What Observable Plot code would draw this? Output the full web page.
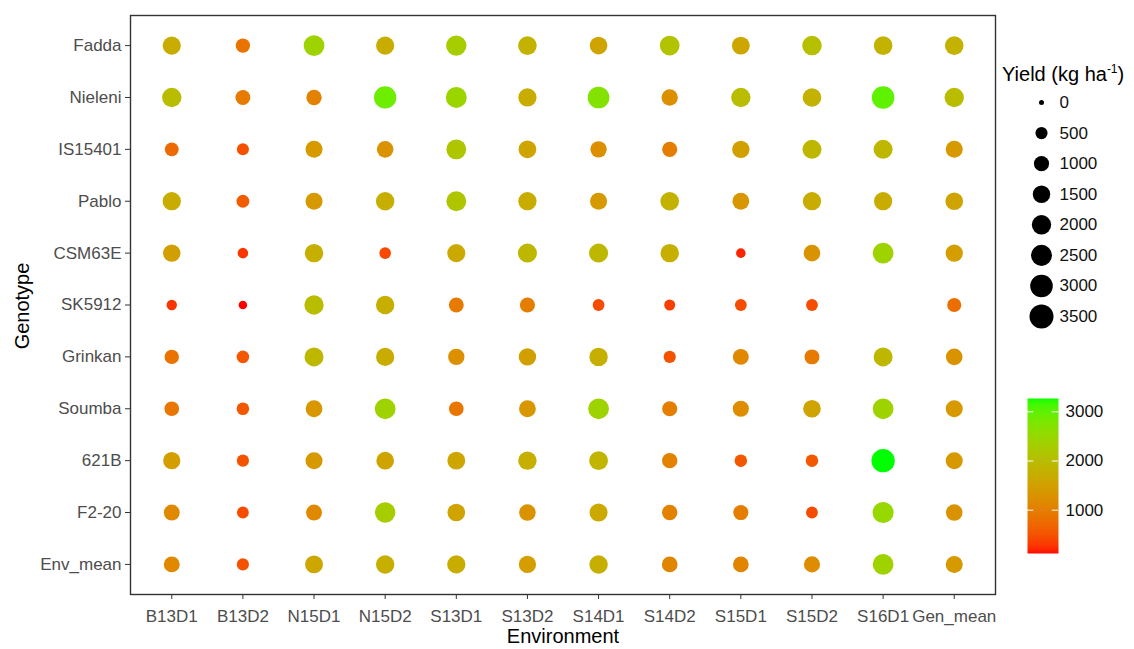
<!DOCTYPE html>
<html>
<head>
<meta charset="utf-8">
<script src="https://cdn.jsdelivr.net/npm/d3@7"></script>
<script src="https://cdn.jsdelivr.net/npm/@observablehq/plot@0.6"></script>
<style>
  body { margin: 0; background: #fff; font-family: "Liberation Sans", Arial, sans-serif; }
  #chart { position: relative; width: 1134px; height: 649px; overflow: hidden; }
  #chart > * { position: absolute; }
  #legend-title { left: 1002px; top: 62px; font-size: 20px; line-height: 24px; color: #000; white-space: nowrap; }
  #legend-title sup { font-size: 12px; line-height: 0; }
</style>
</head>
<body>
<div id="chart">
  <div id="legend-title">Yield (kg ha<sup>-1</sup>)</div>
</div>
<script>
// Environments (columns) and genotypes (rows, top to bottom)
const environments = ["B13D1", "B13D2", "N15D1", "N15D2", "S13D1", "S13D2", "S14D1", "S14D2", "S15D1", "S15D2", "S16D1", "Gen_mean"];
const genotypes = ["Fadda", "Nieleni", "IS15401", "Pablo", "CSM63E", "SK5912", "Grinkan", "Soumba", "621B", "F2-20", "Env_mean"];

// Grain yield (kg/ha) per genotype, one value per environment (null = not sown)
const fadda    = [1700,  850, 2400, 1700, 2300, 1800, 1550, 2100, 1600, 2050, 1800, 1800];
const nieleni  = [2000,  950, 1050, 2900, 2450, 1700, 2700, 1250, 2000, 1800, 3000, 2000];
const is15401  = [ 750,  480, 1400, 1300, 2150, 1550, 1250, 1000, 1500, 1900, 1900, 1400];
const pablo    = [1700,  600, 1400, 1750, 2150, 1700, 1400, 1800, 1350, 1700, 1700, 1550];
const csm63e   = [1500,  300, 1750,  420, 1650, 1900, 1900, 1750,  200, 1300, 2400, 1450];
const sk5912   = [ 280,  120, 2000, 1750,  950, 1000,  450,  350,  450,  450, null,  800];
const grinkan  = [ 850,  550, 1900, 1700, 1250, 1500, 1750,  500, 1150,  950, 1900, 1300];
const soumba   = [ 900,  550, 1350, 2400,  900, 1350, 2400, 1000, 1200, 1550, 2400, 1400];
const b621     = [1450,  500, 1400, 1550, 1600, 1750, 1850, 1050,  550,  550, 3270, 1400];
const f220     = [1150,  450, 1150, 2300, 1550, 1300, 1650, 1050, 1000,  450, 2500, 1300];
const envMean  = [1150,  500, 1600, 1750, 1700, 1450, 1750, 1100, 1100, 1200, 2400, 1400];

// Legend breaks and scale limits
const sizeBreaks = [0, 500, 1000, 1500, 2000, 2500, 3000, 3500];
const sizeLimits = [0, 3500];
const colorTicks = [1000, 2000, 3000];
const colorLimits = [120, 3270];

const rowsByGenotype = {
  "Fadda": fadda, "Nieleni": nieleni, "IS15401": is15401, "Pablo": pablo,
  "CSM63E": csm63e, "SK5912": sk5912, "Grinkan": grinkan, "Soumba": soumba,
  "621B": b621, "F2-20": f220, "Env_mean": envMean
};

const table = genotypes.flatMap(g =>
  environments.map((e, i) => ({genotype: g, environment: e, yield: rowsByGenotype[g][i]}))
).filter(d => d.yield != null);

const font = '"Liberation Sans", Arial, sans-serif';
const sizeScale = {type: "sqrt", domain: sizeLimits, range: [2.5, 12]};
const colorScale = {type: "linear", domain: colorLimits, range: ["#ff0000", "#00ff00"], interpolate: "lab"};

const chartEl = document.getElementById("chart");

// Main bubble grid
const main = Plot.plot({
  width: 1134,
  height: 649,
  marginLeft: 130,
  marginRight: 139,
  marginTop: 15,
  marginBottom: 55,
  style: {fontFamily: font, background: "transparent"},
  x: {type: "point", domain: environments, padding: 0.58, round: false, label: null},
  y: {type: "point", domain: genotypes, padding: 0.58, round: false, label: null},
  r: sizeScale,
  color: colorScale,
  marks: [
    Plot.axisX({tickSize: 5, tickPadding: 10, fontSize: 17, fill: "#4d4d4d", stroke: "#333", label: null}),
    Plot.axisY({tickSize: 5, tickPadding: 4, fontSize: 17, fill: "#4d4d4d", stroke: "#333", label: null}),
    Plot.dot(table, {x: "environment", y: "genotype", r: "yield", fill: "yield"}),
    Plot.frame({stroke: "#333", strokeWidth: 1.4}),
    Plot.text(["Environment"], {frameAnchor: "bottom", dy: 48, fontSize: 20, fill: "#000"}),
    Plot.text(["Genotype"], {frameAnchor: "left", dx: -108, dy: 1, rotate: -90, textAnchor: "middle", fontSize: 20, fill: "#000"})
  ]
});
main.style.left = "0px";
main.style.top = "0px";
chartEl.prepend(main);

// Size legend
const sizeLegend = Plot.plot({
  width: 139,
  height: 250,
  margin: 0,
  marginTop: 18,
  marginBottom: 18,
  style: {fontFamily: font, background: "transparent"},
  y: {type: "point", domain: sizeBreaks, padding: 0, round: false, axis: null},
  r: sizeScale,
  marks: [
    Plot.dot(sizeBreaks, {y: d => d, r: d => d, fill: "#000", frameAnchor: "left", dx: 46}),
    Plot.text(sizeBreaks, {y: d => d, text: d => String(d), frameAnchor: "left", dx: 64, textAnchor: "start", fontSize: 17, fill: "#111"})
  ]
});
sizeLegend.style.left = "995px";
sizeLegend.style.top = "84px";
chartEl.append(sizeLegend);

// Colour bar legend
const colorBar = Plot.plot({
  width: 114,
  height: 175,
  marginLeft: 7,
  marginRight: 76,
  marginTop: 8,
  marginBottom: 12,
  style: {fontFamily: font, background: "transparent"},
  x: {domain: [0, 1], axis: null},
  y: {domain: colorLimits, axis: null},
  color: colorScale,
  marks: [
    Plot.raster({x1: 0, x2: 1, y1: colorLimits[0], y2: colorLimits[1], width: 1, height: 155, fill: (x, y) => y}),
    Plot.ruleY(colorTicks, {x1: 0, x2: 0.2, stroke: "#fff", strokeWidth: 1}),
    Plot.ruleY(colorTicks, {x1: 0.8, x2: 1, stroke: "#fff", strokeWidth: 1}),
    Plot.text(colorTicks, {y: d => d, text: d => String(d), frameAnchor: "right", dx: 7, textAnchor: "start", fontSize: 17, fill: "#111"})
  ]
});
colorBar.style.left = "1020px";
colorBar.style.top = "390px";
chartEl.append(colorBar);
</script>
</body>
</html>
